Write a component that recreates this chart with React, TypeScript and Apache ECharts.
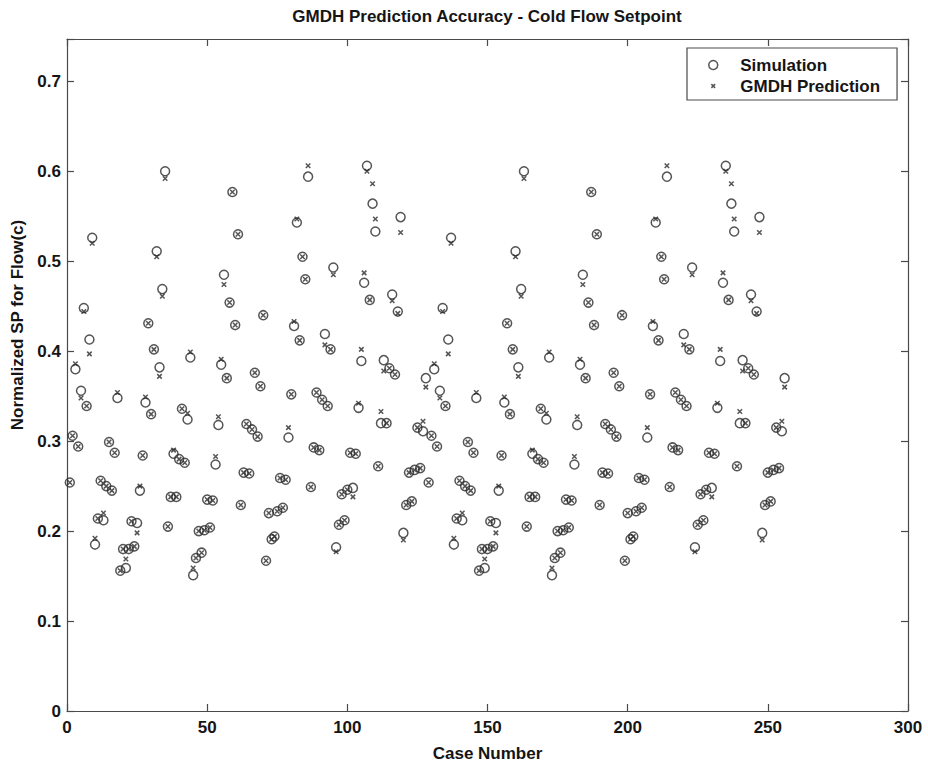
import React, { useEffect, useRef } from "react";
import * as echarts from "echarts";

const FONT = "'Liberation Sans', Arial, Helvetica, sans-serif";
const TITLE = "GMDH Prediction Accuracy - Cold Flow Setpoint";
const X_NAME = "Case Number";
const Y_NAME = "Normalized SP for Flow(c)";
const SERIES_NAMES = ["Simulation", "GMDH Prediction"];

// Simulation values, cases 1-128
const simRun1 = [
  0.254, 0.306, 0.380, 0.294, 0.356, 0.448, 0.339, 0.413, 0.526, 0.185, 0.214, 0.256, 0.212, 0.250, 0.299, 0.245,
  0.287, 0.348, 0.156, 0.180, 0.159, 0.180, 0.211, 0.183, 0.209, 0.245, 0.284, 0.343, 0.431, 0.330, 0.402, 0.511,
  0.382, 0.469, 0.600, 0.205, 0.238, 0.286, 0.238, 0.280, 0.336, 0.276, 0.324, 0.393, 0.151, 0.170, 0.200, 0.176,
  0.201, 0.235, 0.204, 0.234, 0.274, 0.318, 0.385, 0.485, 0.370, 0.454, 0.577, 0.429, 0.530, 0.229, 0.265, 0.319,
  0.264, 0.313, 0.376, 0.305, 0.361, 0.440, 0.167, 0.220, 0.191, 0.194, 0.222, 0.259, 0.226, 0.257, 0.304, 0.352,
  0.428, 0.543, 0.412, 0.505, 0.480, 0.594, 0.249, 0.293, 0.354, 0.290, 0.346, 0.419, 0.339, 0.402, 0.493, 0.182,
  0.207, 0.241, 0.212, 0.246, 0.287, 0.248, 0.286, 0.337, 0.389, 0.476, 0.606, 0.457, 0.564, 0.533, 0.272, 0.320,
  0.390, 0.320, 0.381, 0.463, 0.374, 0.444, 0.549, 0.198, 0.229, 0.265, 0.233, 0.268, 0.315, 0.270, 0.311, 0.370,
];
// Simulation values, cases 129-256
const simRun2 = [
  0.254, 0.306, 0.380, 0.294, 0.356, 0.448, 0.339, 0.413, 0.526, 0.185, 0.214, 0.256, 0.212, 0.250, 0.299, 0.245,
  0.287, 0.348, 0.156, 0.180, 0.159, 0.180, 0.211, 0.183, 0.209, 0.245, 0.284, 0.343, 0.431, 0.330, 0.402, 0.511,
  0.382, 0.469, 0.600, 0.205, 0.238, 0.286, 0.238, 0.280, 0.336, 0.276, 0.324, 0.393, 0.151, 0.170, 0.200, 0.176,
  0.201, 0.235, 0.204, 0.234, 0.274, 0.318, 0.385, 0.485, 0.370, 0.454, 0.577, 0.429, 0.530, 0.229, 0.265, 0.319,
  0.264, 0.313, 0.376, 0.305, 0.361, 0.440, 0.167, 0.220, 0.191, 0.194, 0.222, 0.259, 0.226, 0.257, 0.304, 0.352,
  0.428, 0.543, 0.412, 0.505, 0.480, 0.594, 0.249, 0.293, 0.354, 0.290, 0.346, 0.419, 0.339, 0.402, 0.493, 0.182,
  0.207, 0.241, 0.212, 0.246, 0.287, 0.248, 0.286, 0.337, 0.389, 0.476, 0.606, 0.457, 0.564, 0.533, 0.272, 0.320,
  0.390, 0.320, 0.381, 0.463, 0.374, 0.444, 0.549, 0.198, 0.229, 0.265, 0.233, 0.268, 0.315, 0.270, 0.311, 0.370,
];
// GMDH prediction values, cases 1-128
const predRun1 = [
  0.254, 0.306, 0.386, 0.294, 0.348, 0.444, 0.339, 0.397, 0.520, 0.192, 0.214, 0.256, 0.220, 0.250, 0.299, 0.245,
  0.287, 0.354, 0.156, 0.180, 0.169, 0.180, 0.211, 0.183, 0.198, 0.250, 0.284, 0.349, 0.431, 0.330, 0.402, 0.505,
  0.372, 0.461, 0.592, 0.205, 0.238, 0.290, 0.238, 0.280, 0.336, 0.276, 0.331, 0.399, 0.159, 0.170, 0.200, 0.176,
  0.201, 0.235, 0.204, 0.234, 0.283, 0.327, 0.391, 0.474, 0.370, 0.454, 0.577, 0.429, 0.530, 0.229, 0.265, 0.319,
  0.264, 0.313, 0.376, 0.305, 0.361, 0.440, 0.167, 0.220, 0.191, 0.194, 0.222, 0.259, 0.226, 0.257, 0.315, 0.352,
  0.433, 0.547, 0.412, 0.505, 0.480, 0.606, 0.249, 0.293, 0.354, 0.290, 0.346, 0.407, 0.339, 0.402, 0.485, 0.177,
  0.207, 0.241, 0.212, 0.246, 0.287, 0.238, 0.286, 0.342, 0.402, 0.487, 0.600, 0.457, 0.586, 0.547, 0.272, 0.333,
  0.378, 0.320, 0.381, 0.456, 0.374, 0.442, 0.532, 0.190, 0.229, 0.265, 0.233, 0.268, 0.315, 0.270, 0.322, 0.360,
];
// GMDH prediction values, cases 129-256
const predRun2 = [
  0.254, 0.306, 0.386, 0.294, 0.348, 0.444, 0.339, 0.397, 0.520, 0.192, 0.214, 0.256, 0.220, 0.250, 0.299, 0.245,
  0.287, 0.354, 0.156, 0.180, 0.169, 0.180, 0.211, 0.183, 0.198, 0.250, 0.284, 0.349, 0.431, 0.330, 0.402, 0.505,
  0.372, 0.461, 0.592, 0.205, 0.238, 0.290, 0.238, 0.280, 0.336, 0.276, 0.331, 0.399, 0.159, 0.170, 0.200, 0.176,
  0.201, 0.235, 0.204, 0.234, 0.283, 0.327, 0.391, 0.474, 0.370, 0.454, 0.577, 0.429, 0.530, 0.229, 0.265, 0.319,
  0.264, 0.313, 0.376, 0.305, 0.361, 0.440, 0.167, 0.220, 0.191, 0.194, 0.222, 0.259, 0.226, 0.257, 0.315, 0.352,
  0.433, 0.547, 0.412, 0.505, 0.480, 0.606, 0.249, 0.293, 0.354, 0.290, 0.346, 0.407, 0.339, 0.402, 0.485, 0.177,
  0.207, 0.241, 0.212, 0.246, 0.287, 0.238, 0.286, 0.342, 0.402, 0.487, 0.600, 0.457, 0.586, 0.547, 0.272, 0.333,
  0.378, 0.320, 0.381, 0.456, 0.374, 0.442, 0.532, 0.190, 0.229, 0.265, 0.233, 0.268, 0.315, 0.270, 0.322, 0.360,
];

const X_MIN = 0;
const X_MAX = 300;
const X_STEP = 50;
const Y_MIN = 0;
const Y_MAX = 0.747;
const Y_STEP = 0.1;

const INK = "#2a2a2a";
const AXIS = "#4a4a4a";
const TEXT = "#151515";

export default function App() {
  const ref = useRef<HTMLDivElement>(null);

  useEffect(() => {
    if (!ref.current) return;
    const chart = echarts.init(ref.current, undefined, { renderer: "svg" });

    const sim = [...simRun1, ...simRun2];
    const pred = [...predRun1, ...predRun2];
    const simData = sim.map((v, i) => [i + 1, v]);
    const predData = pred.map((v, i) => [i + 1, v]);

    const axisLine = { show: true, onZero: false, lineStyle: { color: AXIS, width: 1.2 } };
    const axisTick = { show: true, inside: true, length: 7, lineStyle: { color: AXIS, width: 1.2 } };

    const yFormatter = (v: number) => {
      const r = Math.round(v * 10) / 10;
      return Math.abs(v - r) < 1e-6 ? String(r) : "";
    };

    const labelStyle = { fontSize: 17, fontWeight: "bold", color: TEXT, fontFamily: FONT };

    const option: any = {
      animation: false,
      backgroundColor: "#ffffff",
      textStyle: { fontFamily: FONT },
      title: {
        text: TITLE,
        left: 487,
        top: 8,
        textAlign: "center",
        padding: 0,
        textStyle: { fontSize: 17, fontWeight: "bold", color: TEXT, fontFamily: FONT },
      },
      legend: {
        orient: "vertical",
        left: 687,
        top: 48,
        padding: [7, 17, 4, 21],
        itemWidth: 44,
        itemHeight: 9,
        itemGap: 1,
        borderColor: AXIS,
        borderWidth: 1.2,
        borderRadius: 0,
        backgroundColor: "#ffffff",
        selectedMode: false,
        textStyle: { fontSize: 17, fontWeight: "bold", color: TEXT, lineHeight: 20, fontFamily: FONT },
        itemStyle: { color: "rgba(0,0,0,0)", borderColor: INK, borderWidth: 1.5 },
        data: [
          { name: SERIES_NAMES[0], icon: "circle" },
          { name: SERIES_NAMES[1], icon: "path://M-7 -7M17 17M0 0L10 10M10 0L0 10" },
        ],
      },
      grid: { left: 67, right: 20, top: 39, bottom: 55, containLabel: false },
      xAxis: [
        {
          type: "value",
          min: X_MIN,
          max: X_MAX,
          interval: X_STEP,
          position: "bottom",
          axisLine,
          axisTick,
          axisLabel: { margin: 8, ...labelStyle },
          splitLine: { show: false },
          name: X_NAME,
          nameLocation: "middle",
          nameGap: 34,
          nameTextStyle: { ...labelStyle },
        },
        {
          type: "value",
          min: X_MIN,
          max: X_MAX,
          interval: X_STEP,
          position: "top",
          axisLine,
          axisTick,
          axisLabel: { show: false },
          splitLine: { show: false },
        },
      ],
      yAxis: [
        {
          type: "value",
          min: Y_MIN,
          max: Y_MAX,
          interval: Y_STEP,
          position: "left",
          axisLine,
          axisTick,
          axisLabel: { margin: 6, ...labelStyle, formatter: yFormatter },
          splitLine: { show: false },
          name: Y_NAME,
          nameLocation: "middle",
          nameGap: 38,
          nameTextStyle: { ...labelStyle, padding: [0, 0, 0, 100] },
        },
        {
          type: "value",
          min: Y_MIN,
          max: Y_MAX,
          interval: Y_STEP,
          position: "right",
          axisLine,
          axisTick,
          axisLabel: { show: false },
          splitLine: { show: false },
        },
      ],
      series: [
        {
          name: SERIES_NAMES[0],
          type: "scatter",
          xAxisIndex: 0,
          yAxisIndex: 0,
          symbol: "circle",
          symbolSize: 9,
          itemStyle: { color: "rgba(0,0,0,0)", borderColor: INK, borderWidth: 1.5 },
          emphasis: { disabled: true },
          data: simData,
          z: 2,
        },
        {
          name: SERIES_NAMES[1],
          type: "scatter",
          xAxisIndex: 0,
          yAxisIndex: 0,
          symbol: "path://M0 0L10 10M10 0L0 10",
          symbolSize: 4.5,
          itemStyle: { color: "rgba(0,0,0,0)", borderColor: INK, borderWidth: 1.5 },
          emphasis: { disabled: true },
          data: predData,
          z: 3,
        },
      ],
    };

    chart.setOption(option);
    return () => chart.dispose();
  }, []);

  return (
    <div
      ref={ref}
      style={{ position: "fixed", left: 0, top: 0, width: 928, height: 767, background: "#ffffff" }}
    />
  );
}
